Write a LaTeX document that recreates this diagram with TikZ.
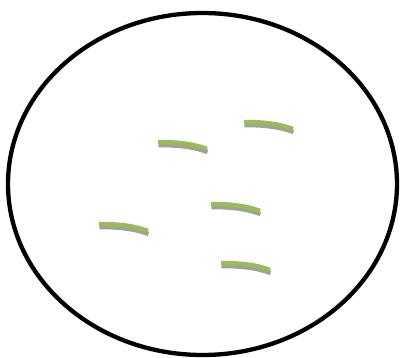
\documentclass[tikz,border=0pt]{standalone}
\usepackage{tikz}
\definecolor{catVerdeHoja}{HTML}{9BBB59}
\definecolor{catGrisSombra}{HTML}{A0A0A0}
\tikzset{
  trazoSombra/.style={draw=catGrisSombra, line width=4.5pt},
  trazoHoja/.style={draw=catVerdeHoja, line width=4.5pt}
}

\begin{document}
\begin{tikzpicture}[x=1pt, y=-1pt]
    \useasboundingbox (0,0) rectangle (400,358);

    % Contorno
    \draw[line width=4.3pt] (202.5,184) ellipse [x radius=194.5, y radius=171];

    % Trazos (sombra y hoja)
    \foreach \px/\py in {158/142, 244/122, 211/204, 99/224, 221/263} {
        \draw[trazoSombra] (\px+0.5,\py+3) .. controls (\px+20.5,\py+3) and (\px+36.5,\py+5) .. (\px+49.5,\py+10);
        \draw[trazoHoja] (\px,\py) .. controls (\px+20,\py) and (\px+36,\py+2) .. (\px+49,\py+7);
    }
\end{tikzpicture}
\end{document}
